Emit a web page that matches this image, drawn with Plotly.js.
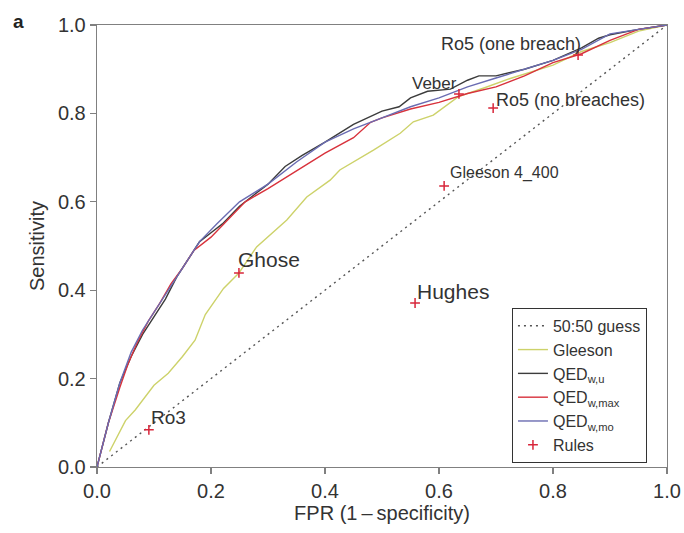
<!DOCTYPE html>
<html>
<head>
<meta charset="utf-8">
<script src="https://cdn.plot.ly/plotly-3.0.1.min.js"></script>
<style>html,body{margin:0;padding:0;background:#fff;}#chart{width:684px;height:533px;}</style>
</head>
<body>
<div id="chart"></div>
<script>
// ---- data ----
const guessFPR = [0, 1];
const guessSens = [0, 1];

const gleesonFPR  = [0.022, 0.05, 0.067, 0.1, 0.125, 0.15, 0.172, 0.19, 0.222, 0.249, 0.28, 0.333, 0.368, 0.409, 0.426, 0.479, 0.485, 0.532, 0.555, 0.59, 0.634, 0.68, 0.725, 0.8, 0.85, 0.9, 0.95, 1.0];
const gleesonSens = [0.035, 0.105, 0.129, 0.185, 0.212, 0.25, 0.287, 0.345, 0.404, 0.439, 0.498, 0.559, 0.611, 0.649, 0.672, 0.712, 0.717, 0.755, 0.781, 0.796, 0.838, 0.858, 0.879, 0.909, 0.94, 0.96, 0.986, 1.0];

const qedUFPR  = [0, 0.01, 0.02, 0.04, 0.06, 0.08, 0.1, 0.12, 0.14, 0.16, 0.18, 0.2, 0.22, 0.25, 0.3, 0.33, 0.36, 0.4, 0.45, 0.5, 0.53, 0.55, 0.58, 0.62, 0.65, 0.67, 0.7, 0.75, 0.8, 0.85, 0.88, 0.9, 0.95, 1.0];
const qedUSens = [0, 0.05, 0.1, 0.19, 0.25, 0.3, 0.34, 0.38, 0.43, 0.47, 0.51, 0.53, 0.55, 0.59, 0.64, 0.68, 0.705, 0.735, 0.775, 0.805, 0.815, 0.835, 0.85, 0.855, 0.875, 0.885, 0.885, 0.9, 0.92, 0.948, 0.97, 0.978, 0.99, 1.0];

const qedMaxFPR  = [0, 0.01, 0.02, 0.04, 0.055, 0.07, 0.09, 0.11, 0.13, 0.15, 0.17, 0.2, 0.23, 0.26, 0.3, 0.35, 0.4, 0.45, 0.48, 0.5, 0.55, 0.6, 0.65, 0.7, 0.75, 0.8, 0.85, 0.9, 0.95, 1.0];
const qedMaxSens = [0, 0.05, 0.1, 0.18, 0.235, 0.28, 0.33, 0.37, 0.415, 0.45, 0.49, 0.52, 0.56, 0.6, 0.63, 0.67, 0.71, 0.745, 0.78, 0.79, 0.81, 0.825, 0.845, 0.86, 0.885, 0.915, 0.935, 0.965, 0.99, 1.0];

const qedMoFPR  = [0, 0.01, 0.02, 0.04, 0.06, 0.08, 0.1, 0.12, 0.14, 0.16, 0.18, 0.21, 0.25, 0.3, 0.35, 0.4, 0.45, 0.5, 0.55, 0.6, 0.65, 0.7, 0.75, 0.8, 0.85, 0.88, 0.9, 0.95, 1.0];
const qedMoSens = [0, 0.05, 0.1, 0.19, 0.26, 0.31, 0.35, 0.39, 0.43, 0.47, 0.51, 0.55, 0.6, 0.64, 0.69, 0.735, 0.765, 0.79, 0.815, 0.835, 0.86, 0.88, 0.9, 0.92, 0.945, 0.965, 0.98, 0.99, 1.0];

const ruleNames = ["Ro3", "Ghose", "Hughes", "Gleeson 4_400", "Veber", "Ro5 (no breaches)", "Ro5 (one breach)"];
const ruleFPR   = [0.091, 0.249, 0.558, 0.609, 0.635, 0.695, 0.844];
const ruleSens  = [0.084, 0.439, 0.371, 0.636, 0.844, 0.812, 0.932];

const tickVals = [0, 0.2, 0.4, 0.6, 0.8, 1.0];
const tickText = ["0.0", "0.2", "0.4", "0.6", "0.8", "1.0"];

// ---- styling of the rule labels (not data) ----
const labelStyle = {
  "Ro3":               {xanchor: "left",  yanchor: "bottom", xs: 0,  ys: 0, size: 19},
  "Ghose":             {xanchor: "left",  yanchor: "bottom", xs: -3, ys: 0, size: 21},
  "Hughes":            {xanchor: "left",  yanchor: "bottom", xs: 0,  ys: -2, size: 21},
  "Gleeson 4_400":     {xanchor: "left",  yanchor: "bottom", xs: 4,  ys: 2, size: 16},
  "Veber":             {xanchor: "right", yanchor: "bottom", xs: 0,  ys: -1, size: 17},
  "Ro5 (no breaches)": {xanchor: "left",  yanchor: "bottom", xs: 1,  ys: -4, size: 18},
  "Ro5 (one breach)":  {xanchor: "right", yanchor: "bottom", xs: 5,  ys: -1, size: 18}
};

const FONT = "Liberation Sans, Arial, Helvetica, sans-serif";

const traces = [
  {x: guessFPR, y: guessSens, mode: "lines", name: "50:50 guess",
   line: {color: "#555555", width: 1.4, dash: "2px,4px"}},
  {x: gleesonFPR, y: gleesonSens, mode: "lines", name: "Gleeson",
   line: {color: "#cdd26a", width: 1.4}},
  {x: qedUFPR, y: qedUSens, mode: "lines", name: "QED<sub>w,u</sub>",
   line: {color: "#3c3c3c", width: 1.4}},
  {x: qedMaxFPR, y: qedMaxSens, mode: "lines", name: "QED<sub>w,max</sub>",
   line: {color: "#d8323c", width: 1.4}},
  {x: qedMoFPR, y: qedMoSens, mode: "lines", name: "QED<sub>w,mo</sub>",
   line: {color: "#6a6cb2", width: 1.4}},
  {x: ruleFPR, y: ruleSens, mode: "markers", name: "Rules", text: ruleNames,
   marker: {symbol: "cross-thin-open", size: 7, color: "#d8263a", line: {color: "#d8263a", width: 1.5}}}
];

const annotations = ruleNames.map((n, i) => {
  const s = labelStyle[n];
  return {x: ruleFPR[i], y: ruleSens[i], xref: "x", yref: "y", text: n, showarrow: false,
          xanchor: s.xanchor, yanchor: s.yanchor, xshift: s.xs, yshift: s.ys,
          font: {family: FONT, size: s.size, color: "#333333"}};
});
// panel letter, positioned in paper coordinates
annotations.push({x: (18 - 97) / 570, y: (467 - 21) / 442, xref: "paper", yref: "paper",
  xanchor: "center", yanchor: "middle", text: "<b>a</b>", showarrow: false,
  font: {family: FONT, size: 19, color: "#222"}});

const axisCommon = {
  range: [0, 1], tickvals: tickVals, ticktext: tickText,
  showline: true, mirror: true, linecolor: "#808080", linewidth: 1.3,
  ticks: "outside", ticklen: 6, tickcolor: "#808080", tickwidth: 1.3,
  showgrid: false, zeroline: false,
  tickfont: {family: FONT, size: 20, color: "#333333"}
};

const layout = {
  width: 684, height: 533,
  margin: {l: 97, r: 17, t: 25, b: 66},
  paper_bgcolor: "#ffffff", plot_bgcolor: "#ffffff",
  showlegend: true,
  legend: {x: 0.728, y: 0.36, xanchor: "left", yanchor: "top",
           bgcolor: "#ffffff", bordercolor: "#333333", borderwidth: 1,
           font: {family: FONT, size: 16, color: "#333333"}, tracegroupgap: 0},
  xaxis: Object.assign({}, axisCommon, {title: {text: "FPR (1\u2009\u2013\u2009specificity)", font: {family: FONT, size: 20, color: "#333"}, standoff: 4}}),
  yaxis: Object.assign({}, axisCommon, {title: {text: "Sensitivity", font: {family: FONT, size: 20, color: "#333"}, standoff: 8}}),
  annotations: annotations
};

Plotly.newPlot("chart", traces, layout, {displayModeBar: false, staticPlot: true});
</script>
</body>
</html>
